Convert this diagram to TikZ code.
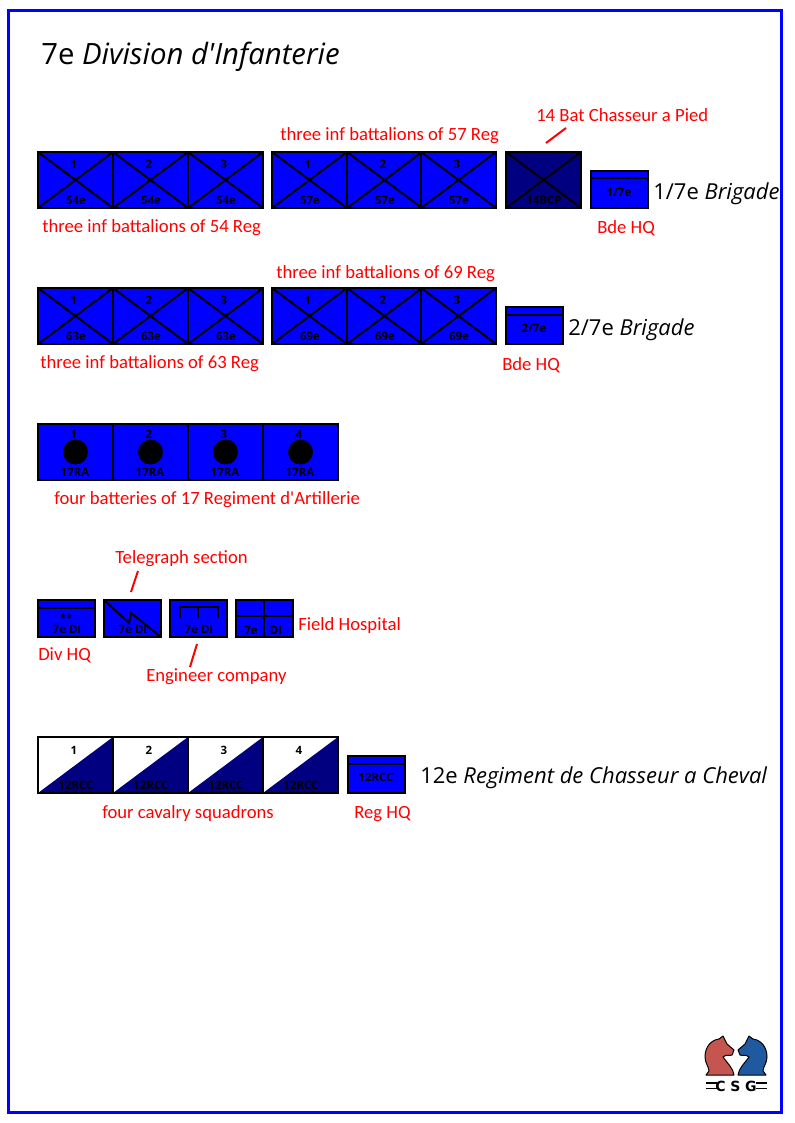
\documentclass[tikz,border=0pt]{standalone}
\usepackage{fontspec}
\newfontfamily\redfont{Carlito}
\newfontfamily\titlefont{Open Sans}
\newfontfamily\unitfont{Open Sans}
\newfontfamily\logofont{DejaVu Sans}
\definecolor{ublue}{HTML}{0000FF}
\definecolor{unavy}{HTML}{000080}
\definecolor{lred}{HTML}{FF0000}
\definecolor{knightred}{HTML}{C4564F}
\definecolor{knightblue}{HTML}{1F5AA0}
\tikzset{
  unitbox/.style={draw=black,line width=1.5pt,fill=ublue,rectangle,inner sep=0pt,outer sep=0pt,anchor=north west,minimum width=56.25pt,minimum height=42pt},
  navybox/.style={unitbox,fill=unavy},
  hqbox/.style={unitbox,minimum width=42.75pt,minimum height=27.75pt},
  sym/.style={line width=1.5pt,black},
  utext/.style={inner sep=0pt,font=\unitfont\bfseries\fontsize{8.6}{10}\selectfont,text=black},
  redtext/.style={inner sep=0pt,anchor=west,text=lred,font=\redfont\fontsize{14}{16}\selectfont},
  redline/.style={draw=lred,line width=1.5pt},
  blacktext/.style={inner sep=0pt,anchor=west,text=black,font=\titlefont\fontsize{16.5}{19}\selectfont},
}
\usetikzlibrary{calc}
\newcommand{\infbox}[6][unitbox]{% style, name, x, y, number, label
  \node[#1] (#2) at (#3,#4) {};
  \draw[sym] (#2.north west) -- (#2.south east);
  \draw[sym] (#2.south west) -- (#2.north east);
  \node[utext] (#2n) at (#3+36,#4+12) {#5};
  \node[utext] (#2l) at (#3+38,#4+48) {#6};
}
\newcommand{\batbox}[4]{% name, x, number, y
  \node[unitbox] (#1) at (#2,#4) {};
  \node[circle,fill=black,inner sep=0pt,minimum size=18.75pt] (#1c) at (#2+37.5,#4+28) {};
  \node[utext] (#1n) at (#2+36,#4+10) {#3};
  \node[utext] (#1l) at (#2+37,#4+48) {17RA};
}
\newcommand{\cavbox}[4]{% name, x, number, y
  \node[unitbox,fill=white] (#1) at (#2,#4) {};
  \fill[unavy] (#1.south west) -- (#1.north east) -- (#1.south east) -- cycle;
  \draw[line width=1.5pt,black] (#1.north west) rectangle (#1.south east);
  \node[utext] (#1n) at (#2+36,#4+13) {#3};
  \node[utext] (#1l) at (#2+38,#4+48) {12RCC};
}
\newcommand{\hqnode}[4]{% name, x, y, label
  \node[hqbox] (#1) at (#2,#3) {};
  \coordinate (#1a) at ($(#1.north west)+(0,7.5)$);
  \coordinate (#1b) at ($(#1.north east)+(0,7.5)$);
  \draw[sym] (#1a) -- (#1b);
  \node[utext] (#1l) at (#2+28,#3+21) {#4};
}
\begin{document}
\begin{tikzpicture}[x=0.75pt,y=-0.75pt]
\useasboundingbox (0,0) rectangle (794,1123);
% frame
\node[draw=ublue,line width=2.25pt,rectangle,inner sep=0pt,outer sep=0pt,anchor=north west,minimum width=579.75pt,minimum height=826.5pt] (frame) at (8.5,10.5) {};
% title
\node[blacktext,font=\titlefont\fontsize{22}{26}\selectfont] (title) at (41,56.5) {7e \textit{Division d'Infanterie}};
% first brigade
\infbox{a1}{38}{152}{1}{54e}
\infbox{a2}{113}{152}{2}{54e}
\infbox{a3}{188}{152}{3}{54e}
\infbox{b1}{272}{152}{1}{57e}
\infbox{b2}{347}{152}{2}{57e}
\infbox{b3}{421}{152}{3}{57e}
\infbox[navybox]{c1}{506}{152}{}{14BCP}
\hqnode{hqa}{591}{171}{1/7e}
\node[redtext] (tb) at (280,136) {three inf battalions of 57 Reg};
\node[redtext] (tc) at (536,115) {14 Bat Chasseur a Pied};
\node[redtext] (ta) at (42,228) {three inf battalions of 54 Reg};
\node[redtext] (thqa) at (597,228) {Bde HQ};
\node[blacktext] (bra) at (653,193.5) {1/7e \textit{Brigade}};
\coordinate (lc1) at (566,128);
\coordinate (lc2) at (546,143);
\draw[redline] (lc1) -- (lc2);
% second brigade
\infbox{d1}{38}{288}{1}{63e}
\infbox{d2}{113}{288}{2}{63e}
\infbox{d3}{188}{288}{3}{63e}
\infbox{e1}{272}{288}{1}{69e}
\infbox{e2}{347}{288}{2}{69e}
\infbox{e3}{421}{288}{3}{69e}
\hqnode{hqb}{506}{307}{2/7e}
\node[redtext] (te) at (276,274) {three inf battalions of 69 Reg};
\node[redtext] (td) at (40,364) {three inf battalions of 63 Reg};
\node[redtext] (thqb) at (502,365) {Bde HQ};
\node[blacktext] (brb) at (568,329.5) {2/7e \textit{Brigade}};
% artillery
\batbox{f1}{38}{1}{424}
\batbox{f2}{113}{2}{424}
\batbox{f3}{188}{3}{424}
\batbox{f4}{263}{4}{424}
\node[redtext] (tf) at (54,500) {four batteries of 17 Regiment d'Artillerie};
% divisional troops
\node[hqbox] (g1) at (38,600) {};
\coordinate (g1a) at ($(g1.north west)+(0,7.5)$);
\coordinate (g1b) at ($(g1.north east)+(0,7.5)$);
\draw[sym] (g1a) -- (g1b);
\node[utext] (g1s) at (66,618) {**};
\node[utext] (g1l) at (67,629) {7e DI};
\node[hqbox] (g2) at (104,600) {};
\coordinate (g2a) at (129,623);
\coordinate (g2b) at (131,613);
\draw[sym,line join=miter] (g2.north west) -- (g2a) -- (g2b) -- (g2.south east);
\node[utext] (g2l) at (133,629) {7e DI};
\node[hqbox] (g3) at (170,600) {};
\coordinate (g3a) at (180,618);
\coordinate (g3b) at (180,607);
\coordinate (g3c) at (218,607);
\coordinate (g3d) at (218,618);
\coordinate (g3e) at (198,607);
\coordinate (g3f) at (198,618);
\draw[sym] (g3a) -- (g3b) -- (g3c) -- (g3d);
\draw[sym] (g3e) -- (g3f);
\node[utext] (g3l) at (199,629) {7e DI};
\node[hqbox] (g4) at (236,600) {};
\coordinate (g4t) at (264,600);
\coordinate (g4u) at (264,637);
\coordinate (g4l) at (236,615.5);
\coordinate (g4r) at (293,615.5);
\draw[sym] (g4t) -- (g4u);
\draw[sym] (g4l) -- (g4r);
\node[utext] (g4a) at (251,630) {7e};
\node[utext] (g4b) at (276,630) {DI};
\node[redtext] (tg2) at (115,559) {Telegraph section};
\node[redtext] (tg1) at (38,655) {Div HQ};
\node[redtext] (tg4) at (298,626) {Field Hospital};
\node[redtext] (tg3) at (146,677) {Engineer company};
\coordinate (lt1) at (138,571);
\coordinate (lt2) at (131,592);
\draw[redline] (lt1) -- (lt2);
\coordinate (le1) at (197,644);
\coordinate (le2) at (190,667);
\draw[redline] (le1) -- (le2);
% cavalry
\cavbox{h1}{38}{1}{737}
\cavbox{h2}{113}{2}{737}
\cavbox{h3}{188}{3}{737}
\cavbox{h4}{263}{4}{737}
\hqnode{hqc}{348}{756}{12RCC}
\node[redtext] (th) at (102,814) {four cavalry squadrons};
\node[redtext] (thqc) at (354,814) {Reg HQ};
\node[blacktext] (brc) at (420,777.5) {12e \textit{Regiment de Chasseur a Cheval}};
% logo
\filldraw[fill=knightred,draw=black,line width=0.75pt,line join=round]
  (706,1075) -- (734,1075) .. controls (733,1068) and (728,1064) .. (723,1057)
  .. controls (726,1054) and (730,1056) .. (732,1055) -- (734,1050) -- (727,1044)
  -- (723,1036) -- (719,1039) .. controls (711,1040) and (705,1047) .. (705,1057)
  .. controls (705,1063) and (709,1067) .. (709,1071) -- cycle;
\filldraw[fill=knightblue,draw=black,line width=0.75pt,line join=round]
  (766,1075) -- (738,1075) .. controls (739,1068) and (744,1064) .. (749,1057)
  .. controls (746,1054) and (742,1056) .. (740,1055) -- (738,1050) -- (745,1044)
  -- (749,1036) -- (753,1039) .. controls (761,1040) and (767,1047) .. (767,1057)
  .. controls (767,1063) and (763,1067) .. (763,1071) -- cycle;
\node[inner sep=0pt,text=black,font=\logofont\bfseries\fontsize{10.5}{12}\selectfont] (csg) at (736,1086) {C\,\,S\,\,G};
\coordinate (lb1) at (706,1083);
\coordinate (lb2) at (717,1083);
\coordinate (lb3) at (706,1088.5);
\coordinate (lb4) at (717,1088.5);
\coordinate (lb5) at (756,1083);
\coordinate (lb6) at (767,1083);
\coordinate (lb7) at (756,1088.5);
\coordinate (lb8) at (767,1088.5);
\draw[line width=1.3pt] (lb1) -- (lb2);
\draw[line width=1.3pt] (lb3) -- (lb4);
\draw[line width=1.3pt] (lb5) -- (lb6);
\draw[line width=1.3pt] (lb7) -- (lb8);
\end{tikzpicture}
\end{document}
